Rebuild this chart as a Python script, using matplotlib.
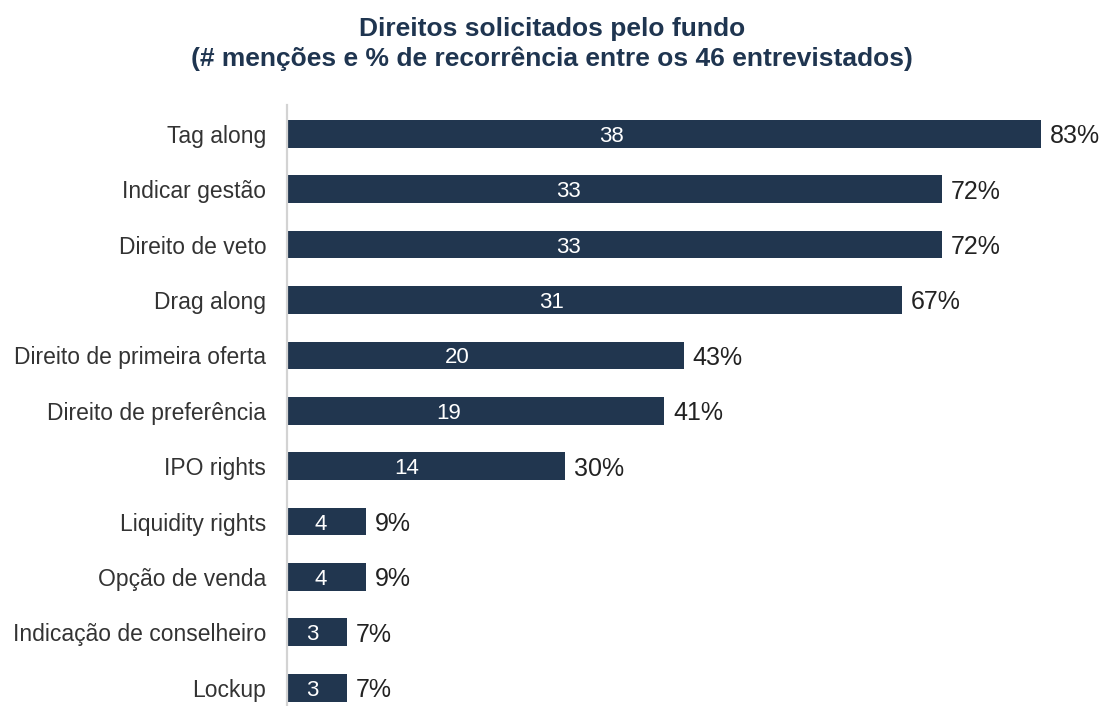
import matplotlib.pyplot as plt

plt.rcParams['font.family'] = ['Liberation Sans', 'DejaVu Sans']

categorias = ["Tag along", "Indicar gestão", "Direito de veto", "Drag along",
              "Direito de primeira oferta", "Direito de preferência", "IPO rights",
              "Liquidity rights", "Opção de venda", "Indicação de conselheiro", "Lockup"]
mencoes = [38, 33, 33, 31, 20, 19, 14, 4, 4, 3, 3]
recorrencia = [83, 72, 72, 67, 43, 41, 30, 9, 9, 7, 7]

azul = "#21364F"

fig = plt.figure(figsize=(11.04, 7.06), dpi=100)
# axes: left edge at the grey line, right edge where the longest bar ends
ax = fig.add_axes([287/1104, 0, 754/1104, 601/706])

y = list(range(len(categorias)))
ax.barh(y, mencoes, height=0.5, color=azul)
ax.set_xlim(0, 38)
ax.set_ylim(10.33, -0.52)

for i, (n, p) in enumerate(zip(mencoes, recorrencia)):
    ax.text(n * 0.43, i, str(n), color="white", fontsize=16,
            ha="center", va="center_baseline")
    ax.text(n + 0.45, i, f"{p}%", color="#222222", fontsize=18,
            ha="left", va="center_baseline", clip_on=False)

ax.set_yticks(y)
ax.set_yticklabels(categorias, fontsize=16.5, color="#333333", va="center_baseline")
ax.tick_params(axis="y", length=0, pad=15)
ax.set_xticks([])
for s in ["top", "right", "bottom"]:
    ax.spines[s].set_visible(False)
ax.spines["left"].set_color("#D3D3D3")
ax.spines["left"].set_linewidth(1.6)

fig.text(0.5, 1 - 29/706, "Direitos solicitados pelo fundo", ha="center", va="center",
         fontsize=19, fontweight="bold", color="#1F3550")
fig.text(0.5, 1 - 59/706, "(# menções e % de recorrência entre os 46 entrevistados)",
         ha="center", va="center", fontsize=19, fontweight="bold", color="#1F3550")

fig.savefig("out.png", dpi=100, facecolor="white")
